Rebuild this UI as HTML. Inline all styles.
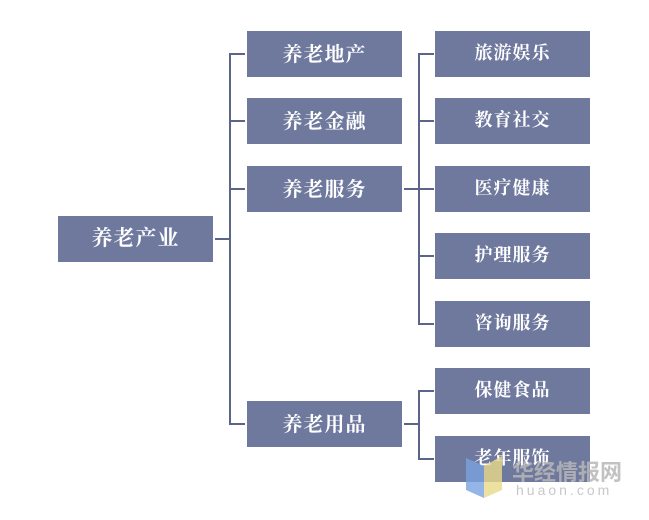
<!DOCTYPE html>
<html><head><meta charset="utf-8"><style>
body{margin:0;width:649px;height:520px;background:#fff;position:relative;overflow:hidden;font-family:"Liberation Serif","Noto Serif CJK SC",serif}
.b{position:absolute;background:#6f799e;color:#fff;display:flex;align-items:center;justify-content:center;width:155px;height:46px;font-size:20px;font-weight:bold;letter-spacing:1px;box-sizing:border-box;padding-bottom:4px}
.s{font-size:18px}
.l{position:absolute;background:#5c6489}
</style></head><body>
<div class="b" style="left:58px;top:216px;font-size:21px">养老产业</div>
<div class="b" style="left:247px;top:31px">养老地产</div>
<div class="b" style="left:247px;top:98px">养老金融</div>
<div class="b" style="left:247px;top:166px">养老服务</div>
<div class="b" style="left:247px;top:401px">养老用品</div>
<div class="b s" style="left:435px;top:31px">旅游娱乐</div>
<div class="b s" style="left:435px;top:98px">教育社交</div>
<div class="b s" style="left:435px;top:166px">医疗健康</div>
<div class="b s" style="left:435px;top:233px">护理服务</div>
<div class="b s" style="left:435px;top:301px">咨询服务</div>
<div class="b s" style="left:435px;top:368px">保健食品</div>
<div class="b s" style="left:435px;top:436px">老年服饰</div>
<div class="l" style="left:215px;top:238px;width:15px;height:2px"></div>
<div class="l" style="left:229px;top:53px;width:2px;height:372px"></div>
<div class="l" style="left:229px;top:53px;width:16px;height:2px"></div>
<div class="l" style="left:229px;top:120px;width:16px;height:2px"></div>
<div class="l" style="left:229px;top:188px;width:16px;height:2px"></div>
<div class="l" style="left:229px;top:423px;width:16px;height:2px"></div>
<div class="l" style="left:404px;top:188px;width:15px;height:2px"></div>
<div class="l" style="left:418px;top:53px;width:2px;height:272px"></div>
<div class="l" style="left:418px;top:53px;width:16px;height:2px"></div>
<div class="l" style="left:418px;top:120px;width:16px;height:2px"></div>
<div class="l" style="left:418px;top:188px;width:16px;height:2px"></div>
<div class="l" style="left:418px;top:255px;width:16px;height:2px"></div>
<div class="l" style="left:418px;top:323px;width:16px;height:2px"></div>
<div class="l" style="left:404px;top:423px;width:15px;height:2px"></div>
<div class="l" style="left:418px;top:390px;width:2px;height:70px"></div>
<div class="l" style="left:418px;top:390px;width:16px;height:2px"></div>
<div class="l" style="left:418px;top:458px;width:16px;height:2px"></div>
<svg style="position:absolute;left:466px;top:456px" width="40" height="44"><polygon points="0,2 18,10 18,42 0,34" fill="#7aa3e0" opacity=".8"/><polygon points="18,10 36,0 36,34 18,42" fill="#e8d98a" opacity=".8"/></svg>
<div style="position:absolute;left:512px;top:455px;font-size:22px;font-weight:bold;color:#b8b8b8;opacity:.85;font-family:'Liberation Sans','Noto Sans CJK SC',sans-serif">华经情报网</div>
<div style="position:absolute;left:516px;top:482px;font-size:14px;color:#c8c8c8;letter-spacing:3px;font-family:'Liberation Sans',sans-serif">huaon.com</div>
</body></html>
